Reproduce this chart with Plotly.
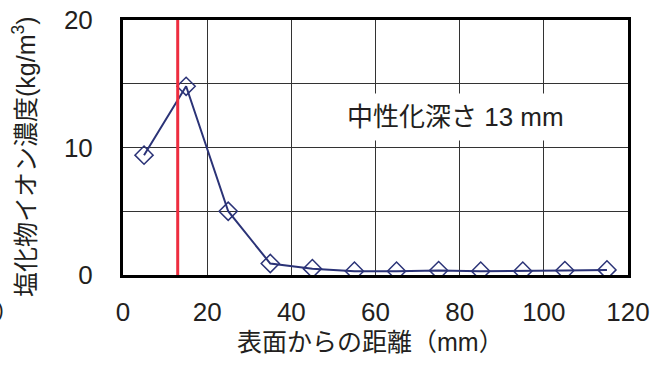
import plotly.graph_objects as go

depth_mm = [5, 15, 25, 35, 45, 55, 65, 75, 85, 95, 105, 115]
chloride = [9.4, 14.8, 5.0, 0.9, 0.5, 0.3, 0.3, 0.35, 0.3, 0.3, 0.35, 0.4]
carb_depth = 13
x_ticks = [0, 20, 40, 60, 80, 100, 120]
y_ticks = [0, 10, 20]

JP = "Liberation Sans, Arial, Noto Sans CJK JP"
TXT = "#231F20"

L, R, T, B = 123, 39, 20, 90
PW, PH = 667 - L - R, 365 - T - B


def px(xpix):
    return (xpix - L) / PW


def py(ypix):
    return (365 - B - ypix) / PH


fig = go.Figure()
fig.add_trace(go.Scatter(
    x=depth_mm, y=chloride, mode="lines+markers",
    line=dict(color="#2B3377", width=2),
    marker=dict(symbol="diamond-open", size=14, color="#2B3377", line=dict(width=1.5)),
    showlegend=False,
))
fig.add_shape(type="line", x0=carb_depth, x1=carb_depth, y0=0, y1=20,
              xref="x", yref="y", line=dict(color="#EE2D3F", width=3))
fig.add_annotation(x=79, y=12.4, xref="x", yref="y", text="中性化深さ 13 mm",
                   showarrow=False, font=dict(family=JP, size=26, color=TXT),
                   bgcolor="white", borderpad=8)
# axis titles
fig.add_annotation(x=px(24), y=py(157), xref="paper", yref="paper",
                   xanchor="center", yanchor="middle",
                   text="塩化物イオン濃度(kg/m<sup>3</sup>)", textangle=-90,
                   showarrow=False, font=dict(family=JP, size=25, color=TXT))
fig.add_annotation(x=px(370), y=py(358), xref="paper", yref="paper",
                   xanchor="center", yanchor="bottom",
                   text="表面からの距離（mm）",
                   showarrow=False, font=dict(family=JP, size=25, color=TXT))
fig.add_annotation(x=px(6), y=py(310), xref="paper", yref="paper",
                   xanchor="right", yanchor="middle",
                   text=")", showarrow=False, font=dict(family=JP, size=20, color=TXT))

fig.update_xaxes(range=[0, 120], tickvals=x_ticks, showgrid=True, gridcolor="#333333",
                 gridwidth=1, zeroline=False, showline=True, linecolor="black", linewidth=3,
                 mirror=True, ticks="", tickfont=dict(family=JP, size=26, color=TXT),
                 ticklabelstandoff=12, automargin=False)
fig.update_yaxes(range=[0, 20], tickvals=y_ticks, showgrid=True, gridcolor="#333333",
                 gridwidth=1, zeroline=False, showline=True, linecolor="black", linewidth=3,
                 mirror=True, ticks="", tickfont=dict(family=JP, size=26, color=TXT),
                 ticklabelstandoff=22, automargin=False,
                 minor=dict(tickvals=[5, 15], showgrid=True, gridcolor="#333333", gridwidth=1))

fig.update_layout(width=667, height=365, margin=dict(l=L, r=R, t=T, b=B, autoexpand=False),
                  plot_bgcolor="white", paper_bgcolor="white")
fig.write_html("out.html", config={"displayModeBar": False},
               post_script="document.body.style.margin='0px';")
